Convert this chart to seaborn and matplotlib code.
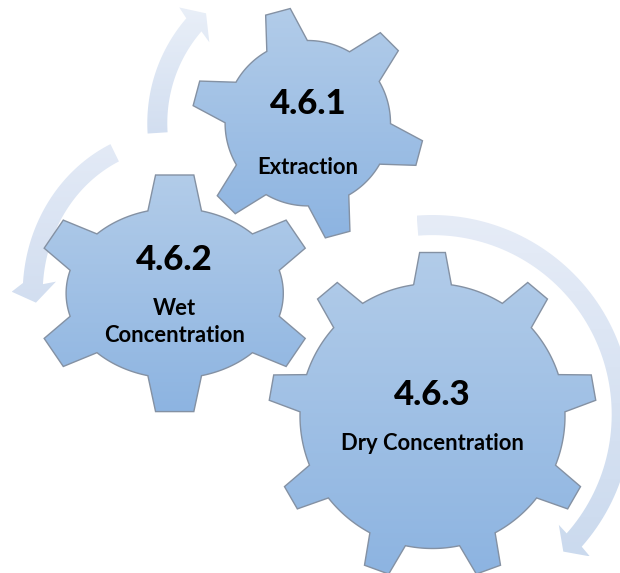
import numpy as np
import matplotlib
matplotlib.use('Agg')
import matplotlib.pyplot as plt
from matplotlib.patches import Polygon
import seaborn as sns

# labels
step_numbers = ['4.6.1', '4.6.2', '4.6.3']
step_names = ['Extraction', 'Wet\nConcentration', 'Dry Concentration']

# gear shapes, in image pixels
gear_x = [307.8, 174.7, 432.5]
gear_y = [123.2, 293.3, 416.0]
gear_teeth = [6, 6, 9]
gear_rot = [105, 90, 90]
root_rx = [82.7, 108.6, 132.5]
root_ry = [82.7, 85.0, 132.5]
tip_rx = [116.0, 141.0, 164.0]
tip_ry = [116.0, 119.4, 164.0]
root_half = [14.7, 14.3, 8.2]
tip_half = [6.3, 7.8, 4.5]
number_y = [104, 260, 395]
name_y = [168, 322, 443]

# arrows: centre, inner/outer radii, start/end angle, head points (radius factor, angle)
arrow_x = [432.3, 174.7, 307.8]
arrow_y = [414.5, 293.3, 123.2]
arrow_in = [(179.4, 179.4), (132.0, 145.5), (140.5, 140.5)]
arrow_out = [(199.5, 199.5), (152.0, 164.6), (160.5, 160.5)]
arrow_from = [94.5, 115.0, 183.7]
arrow_to = [-41.5, 176.4, 139.2]
wing_in = [(0.936, -41.1), (0.903, 174.9), (0.907, 140.6)]
wing_out = [(1.182, -42.0), (1.235, 179.5), (1.231, 138.0)]
head_tip = [(1.057, -46.3), (1.053, 183.5), (1.066, 132.8)]
arrow_top = ['#E6ECF7', '#E3EAF6', '#E9EFF8']
arrow_bottom = ['#CBDAEE', '#D2DEF0', '#D2DEF0']

gear_top = '#B2CCE9'
gear_bottom = '#8DB4E1'
gear_edge = '#8491A3'


def on_ellipse(cx, cy, rx, ry, ang):
    a = np.radians(ang)
    return cx + rx*np.cos(a), cy - ry*np.sin(a)


def gear_outline(i):
    cx, cy = gear_x[i], gear_y[i]
    step = 360/gear_teeth[i]
    pts = []
    for t in range(gear_teeth[i]):
        mid = gear_rot[i] - t*step
        pts.append(on_ellipse(cx, cy, root_rx[i], root_ry[i], mid + root_half[i]))
        pts.append(on_ellipse(cx, cy, tip_rx[i], tip_ry[i], mid + tip_half[i]))
        pts.append(on_ellipse(cx, cy, tip_rx[i], tip_ry[i], mid - tip_half[i]))
        # root arc up to the next tooth
        arc = np.linspace(mid - root_half[i], mid - step + root_half[i], 24)
        pts.extend(on_ellipse(cx, cy, root_rx[i], root_ry[i], a) for a in arc[:-1])
    return np.array(pts)


def arrow_outline(i):
    cx, cy = arrow_x[i], arrow_y[i]
    rx0, ry0 = arrow_in[i]
    rx1, ry1 = arrow_out[i]
    arc = np.linspace(arrow_from[i], arrow_to[i], 80)
    pts = [on_ellipse(cx, cy, rx1, ry1, a) for a in arc]
    pts.append(on_ellipse(cx, cy, rx0*wing_out[i][0], ry0*wing_out[i][0], wing_out[i][1]))
    pts.append(on_ellipse(cx, cy, rx0*head_tip[i][0], ry0*head_tip[i][0], head_tip[i][1]))
    pts.append(on_ellipse(cx, cy, rx0*wing_in[i][0], ry0*wing_in[i][0], wing_in[i][1]))
    pts.extend(on_ellipse(cx, cy, rx0, ry0, a) for a in arc[::-1])
    return np.array(pts)


def gradient_fill(ax, pts, top, bottom, edge=None):
    # vertical gradient clipped to the shape
    cmap = sns.blend_palette([top, bottom], 64, as_cmap=True)
    shape = Polygon(pts, closed=True, facecolor='none', edgecolor=edge or 'none', lw=1.0, zorder=3)
    ax.add_patch(shape)
    extent = (pts[:, 0].min(), pts[:, 0].max(), pts[:, 1].max(), pts[:, 1].min())
    img = ax.imshow(np.linspace(0, 1, 128).reshape(-1, 1), cmap=cmap, extent=extent,
                    aspect='auto', origin='upper', zorder=2)
    img.set_clip_path(shape)


sns.set_theme(style='white')
plt.rcParams['font.family'] = ['Lato', 'DejaVu Sans']

fig = plt.figure(figsize=(6.2, 5.73), dpi=100)
ax = fig.add_axes([0, 0, 1, 1])

for i in range(len(arrow_x)):
    gradient_fill(ax, arrow_outline(i), arrow_top[i], arrow_bottom[i])

for i in range(len(gear_x)):
    gradient_fill(ax, gear_outline(i), gear_top, gear_bottom, edge=gear_edge)
    ax.text(gear_x[i], number_y[i], step_numbers[i], fontsize=25, fontweight='black',
            color='black', ha='center', va='center', zorder=5)
    ax.text(gear_x[i], name_y[i], step_names[i], fontsize=15.8, fontweight='bold',
            color='black', ha='center', va='center', linespacing=1.3, zorder=5)

ax.set_xlim(0, 620)
ax.set_ylim(573, 0)
ax.axis('off')
fig.savefig('out.png', dpi=100, facecolor='white')
